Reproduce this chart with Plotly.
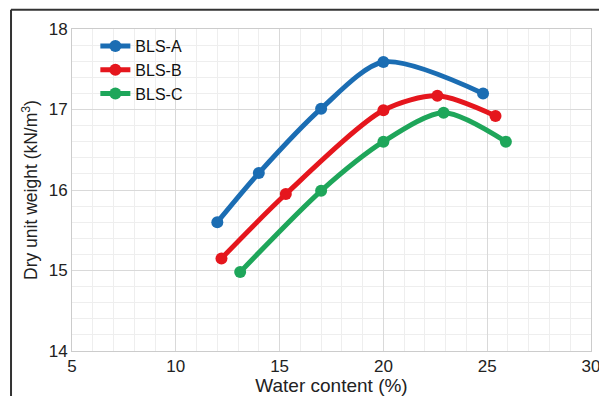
import plotly.graph_objects as go

series_names = ["BLS-A", "BLS-B", "BLS-C"]
water_a = [12.0, 14.0, 17.0, 20.0, 24.8]
dry_a = [15.6, 16.21, 17.01, 17.59, 17.2]
water_b = [12.2, 15.3, 20.0, 22.6, 25.4]
dry_b = [15.15, 15.95, 16.99, 17.17, 16.92]
water_c = [13.1, 17.0, 20.0, 22.9, 25.9]
dry_c = [14.98, 15.99, 16.6, 16.96, 16.6]
colors = ["#1b6db3", "#e5161d", "#1ea65a"]

x_ticks = [5, 10, 15, 20, 25, 30]
y_ticks = [14, 15, 16, 17, 18]

fig = go.Figure()
for name, xs, ys, c in zip(series_names, [water_a, water_b, water_c],
                           [dry_a, dry_b, dry_c], colors):
    fig.add_trace(go.Scatter(
        x=xs, y=ys, name=name, mode="lines+markers",
        line=dict(color=c, width=5, shape="spline", smoothing=0.8),
        marker=dict(color=c, size=12),
    ))

font = "Liberation Sans, Arial, sans-serif"
frame = dict(color="#333333", width=2)
# the page body adds an 8px offset; figure is sized to fit the 607x408 window
fig.update_layout(
    width=593, height=388,
    margin=dict(l=64, r=10, t=21, b=45, autoexpand=False),
    paper_bgcolor="white", plot_bgcolor="white",
    font=dict(family=font, size=16, color="#222222"),
    showlegend=True,
    legend=dict(x=0.045, y=1.0, xanchor="left", yanchor="top",
                bgcolor="rgba(0,0,0,0)", font=dict(size=16, color="#111111"),
                itemwidth=30, tracegroupgap=0),
    xaxis=dict(range=[5, 30], tickvals=x_ticks, showgrid=True, automargin=False,
               gridcolor="#d9d9d9", gridwidth=1, ticklabeloverflow="allow",
               minor=dict(dtick=1, showgrid=True, gridcolor="#eeeeee", gridwidth=1),
               showline=True, linecolor="#cccccc", mirror=True, zeroline=False,
               ticks="", tickfont=dict(size=17),
               title=dict(text="Water content (%)", font=dict(size=19), standoff=3)),
    yaxis=dict(range=[14, 18], tickvals=y_ticks, showgrid=True, automargin=False,
               gridcolor="#d9d9d9", gridwidth=1,
               minor=dict(dtick=0.2, showgrid=True, gridcolor="#eeeeee", gridwidth=1),
               showline=True, linecolor="#cccccc", mirror=True, zeroline=False,
               ticks="", tickfont=dict(size=17),
               title=dict(text="Dry unit weight (kN/m<sup>3</sup>)", font=dict(size=17.5), standoff=6)),
    shapes=[
        dict(type="line", xref="paper", yref="paper",
             x0=-0.1175, x1=-0.1175, y0=-0.3, y1=1.06, line=frame, layer="below"),
        dict(type="line", xref="paper", yref="paper",
             x0=-0.1175, x1=1.1, y0=1.06, y1=1.06, line=frame, layer="below"),
    ],
)

fig.write_html("out.html")
